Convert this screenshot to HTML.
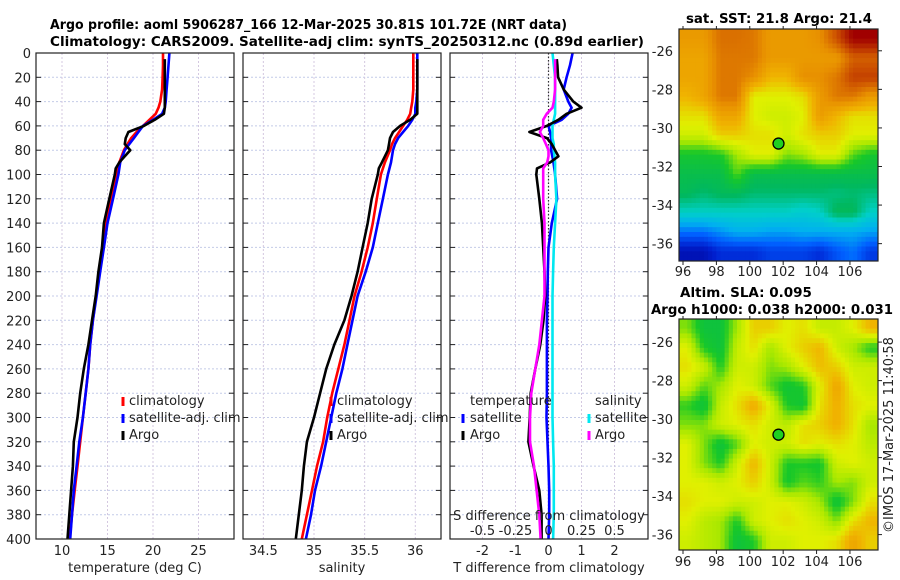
<!DOCTYPE html>
<html><head><meta charset="utf-8">
<style>
html,body{margin:0;padding:0;background:#fff;}
svg{display:block;font-family:"DejaVu Sans","Liberation Sans",sans-serif;}
.tk{font-size:13px;fill:#222;}
.tt{font-size:13.5px;font-weight:bold;fill:#000;}
</style></head>
<body>
<svg id="fig" width="900" height="580" viewBox="0 0 900 580" xmlns="http://www.w3.org/2000/svg">
<text class="tt" x="50" y="29" textLength="517" lengthAdjust="spacingAndGlyphs">Argo profile: aoml 5906287_166 12-Mar-2025 30.81S 101.72E (NRT data)</text>
<text class="tt" x="50" y="46" textLength="594" lengthAdjust="spacingAndGlyphs">Climatology: CARS2009. Satellite-adj clim: synTS_20250312.nc (0.89d earlier)</text>
<text class="tt" x="779" y="23" text-anchor="middle" textLength="186" lengthAdjust="spacingAndGlyphs">sat. SST: 21.8 Argo: 21.4</text>
<text class="tt" x="746" y="297" text-anchor="middle">Altim. SLA: 0.095</text>
<text class="tt" x="772" y="314" text-anchor="middle" textLength="242" lengthAdjust="spacingAndGlyphs">Argo h1000: 0.038 h2000: 0.031</text>
<text class="tk" transform="translate(893,435) rotate(-90)" text-anchor="middle">©IMOS 17-Mar-2025 11:40:58</text>
<g id="layer"></g>
</svg>
<script>
// ---- data ----
const yTicks = [0,20,40,60,80,100,120,140,160,180,200,220,240,260,280,300,320,340,360,380,400];
const tTicks = [10,15,20,25];
const sTicks = [34.5,35,35.5,36];
const dtTicks = [-2,-1,0,1,2];
const dsTicks = [-0.5,-0.25,0,0.25,0.5];
const dsTickLabels = ["-0.5","-0.25","0","0.25","0.5"];
const climDepth = [0,10,20,30,40,45,50,55,60,65,70,75,80,90,100,120,140,160,180,200,220,240,260,280,300,320,340,360,380,400];
const tClim = [21.1,21.1,21.05,21.0,20.8,20.6,20.3,19.6,18.9,18.2,17.6,17.2,16.8,16.3,16.0,15.4,14.8,14.5,14.1,13.75,13.4,13.1,12.9,12.6,12.3,12.0,11.7,11.4,11.1,10.85];
const tSat = [21.8,21.7,21.6,21.5,21.4,21.3,21.0,20.0,18.9,18.4,17.9,17.4,16.9,16.4,16.2,15.6,15.0,14.6,14.2,13.8,13.4,13.1,12.9,12.6,12.3,11.9,11.6,11.3,11.1,10.9];
const sClim = [35.98,35.98,35.98,35.98,35.97,35.96,35.95,35.92,35.88,35.84,35.80,35.77,35.75,35.70,35.66,35.62,35.58,35.53,35.47,35.40,35.35,35.30,35.24,35.18,35.13,35.09,35.03,34.98,34.93,34.88];
const sSat = [36.02,36.02,36.02,36.02,36.01,36.0,36.0,35.97,35.93,35.88,35.83,35.80,35.78,35.76,35.73,35.68,35.63,35.58,35.51,35.43,35.38,35.33,35.28,35.22,35.17,35.12,35.07,35.01,34.97,34.92];
const argoDepth = [5,10,20,30,40,45,50,55,60,65,70,75,80,85,90,95,100,120,140,160,180,200,220,240,260,280,300,320,340,360,380,400];
const tArgo = [21.3,21.3,21.3,21.3,21.3,21.3,21.2,20.2,19.0,17.3,17.0,16.9,17.5,16.9,16.3,15.9,15.8,15.2,14.6,14.4,14.0,13.7,13.3,12.9,12.4,12.0,11.7,11.3,11.2,11.0,10.8,10.6];
const sArgo = [36.02,36.02,36.02,36.02,36.02,36.02,36.02,35.95,35.85,35.78,35.75,35.74,35.73,35.70,35.67,35.64,35.63,35.57,35.53,35.48,35.43,35.37,35.30,35.20,35.12,35.06,35.00,34.93,34.90,34.88,34.85,34.82];
const dTsat = [0.73,0.65,0.55,0.46,0.6,0.7,0.6,0.4,0.0,0.05,0.08,0.08,0.08,0.15,0.2,0.26,0.1,0.0,-0.02,-0.03,-0.05,-0.05,-0.05,-0.05,-0.06,-0.03,0.0,0.02,0.02,0.0];
const dSsat = [0.03,0.04,0.05,0.05,0.05,0.05,0.05,0.04,0.03,0.03,0.03,0.04,0.04,0.05,0.05,0.06,0.05,0.04,0.035,0.03,0.03,0.03,0.03,0.03,0.03,0.035,0.04,0.04,0.04,0.035];
const dTargo = [0.25,0.27,0.29,0.46,0.75,1.0,0.55,0.3,-0.05,-0.58,-0.05,0.1,0.2,0.3,0.05,-0.35,-0.37,-0.28,-0.2,-0.16,-0.12,-0.1,-0.15,-0.25,-0.4,-0.54,-0.57,-0.61,-0.45,-0.28,-0.21,-0.21];
const dSargo = [0.05,0.05,0.05,0.05,0.04,0.03,-0.014,-0.04,-0.04,-0.065,-0.04,-0.02,0.0,0.0,-0.01,-0.04,-0.04,-0.04,-0.03,-0.03,-0.03,-0.03,-0.05,-0.07,-0.1,-0.13,-0.14,-0.14,-0.11,-0.09,-0.07,-0.06];
// map data (normalized colour index 0..1), rows north->south, cols west->east
const sstGrid = [
[0.80,0.80,0.86,0.86,0.85,0.80,0.80,0.80,0.82,0.90,1.00,1.00],
[0.78,0.78,0.85,0.85,0.85,0.80,0.80,0.80,0.80,0.80,0.88,0.88],
[0.78,0.78,0.85,0.85,0.82,0.75,0.75,0.82,0.82,0.85,0.92,0.92],
[0.75,0.78,0.85,0.85,0.68,0.68,0.68,0.70,0.80,0.85,0.85,0.80],
[0.70,0.70,0.78,0.78,0.68,0.66,0.66,0.68,0.80,0.75,0.70,0.70],
[0.66,0.66,0.72,0.72,0.70,0.70,0.66,0.70,0.72,0.72,0.68,0.68],
[0.54,0.54,0.55,0.62,0.68,0.68,0.60,0.62,0.68,0.68,0.58,0.54],
[0.50,0.50,0.50,0.58,0.50,0.50,0.50,0.50,0.50,0.50,0.50,0.50],
[0.48,0.46,0.48,0.48,0.46,0.46,0.46,0.46,0.46,0.45,0.46,0.45],
[0.40,0.40,0.40,0.40,0.40,0.40,0.40,0.38,0.40,0.48,0.48,0.40],
[0.22,0.22,0.26,0.30,0.30,0.28,0.28,0.30,0.30,0.30,0.30,0.28],
[0.06,0.06,0.12,0.12,0.12,0.15,0.15,0.15,0.12,0.18,0.22,0.14]];
const slaGrid = [
[0.60,0.52,0.52,0.62,0.72,0.72,0.68,0.70,0.65,0.65,0.68,0.75],
[0.68,0.55,0.52,0.65,0.70,0.62,0.68,0.72,0.75,0.66,0.62,0.55],
[0.70,0.66,0.55,0.66,0.66,0.60,0.62,0.68,0.74,0.72,0.66,0.66],
[0.66,0.58,0.62,0.68,0.66,0.58,0.53,0.55,0.68,0.78,0.68,0.66],
[0.56,0.52,0.65,0.70,0.77,0.68,0.55,0.53,0.70,0.76,0.70,0.68],
[0.60,0.60,0.66,0.68,0.70,0.66,0.64,0.70,0.72,0.76,0.70,0.62],
[0.68,0.60,0.52,0.58,0.68,0.66,0.66,0.70,0.68,0.70,0.68,0.64],
[0.68,0.60,0.55,0.66,0.75,0.66,0.55,0.55,0.54,0.66,0.68,0.66],
[0.68,0.68,0.66,0.68,0.72,0.66,0.54,0.58,0.56,0.62,0.60,0.66],
[0.70,0.68,0.68,0.66,0.66,0.68,0.68,0.66,0.62,0.52,0.60,0.70],
[0.68,0.64,0.62,0.55,0.66,0.68,0.70,0.68,0.66,0.60,0.70,0.75],
[0.66,0.64,0.62,0.52,0.55,0.66,0.66,0.68,0.68,0.70,0.78,0.72]];
const lonTicks = [96,98,100,102,104,106];
const sstLatTicks = [-26,-28,-30,-32,-34,-36];
const slaLatTicks = [-26,-28,-30,-32,-34,-36];
const argoLon = 101.72, argoLat = -30.81;

// ---- helpers ----
const NS = "http://www.w3.org/2000/svg";
const layer = document.getElementById('layer');
function mk(tag, attrs, parent){
  const e = document.createElementNS(NS, tag);
  for (const k in attrs) e.setAttribute(k, attrs[k]);
  (parent||layer).appendChild(e);
  return e;
}
const Y0 = 53, YS = 1.215;
const yD = d => Y0 + d*YS;
const BOT = yD(400);
const panels = [
  {name:'temperature-panel', x0:36, x1:234, fx:v=>62+(v-10)*9.1, ticks:tTicks, labels:tTicks.map(String), xlabel:'temperature (deg C)'},
  {name:'salinity-panel', x0:243, x1:441, fx:v=>314+(v-35)*101.3, ticks:sTicks, labels:sTicks.map(String), xlabel:'salinity'},
  {name:'difference-panel', x0:450, x1:648, fx:v=>548.5+v*33, ticks:dtTicks, labels:dtTicks.map(String), xlabel:'T difference from climatology'}
];
const fS = v => 548.5 + v*132;

panels.forEach((p,pi)=>{
  const g = mk('g',{});
  
  
  yTicks.forEach(d=>{
    const l = mk('line',{x1:p.x0,x2:p.x1,y1:yD(d),y2:yD(d),stroke:'#c4cbe8','stroke-width':1,'stroke-dasharray':'2,2'},g);
    
    
    mk('line',{x1:p.x0,x2:p.x0+5,y1:yD(d),y2:yD(d),stroke:'#222','stroke-width':1},g);
    mk('line',{x1:p.x1-5,x2:p.x1,y1:yD(d),y2:yD(d),stroke:'#222','stroke-width':1},g);
    if (pi===0){
      const t = mk('text',{x:31,y:yD(d)+5,'text-anchor':'end',class:'tk'},g);
      t.textContent = d;
      
      
    }
  });
  p.ticks.forEach((v,i)=>{
    const x = p.fx(v);
    const l = mk('line',{x1:x,x2:x,y1:Y0,y2:BOT,stroke:'#d4c8e0','stroke-width':1,'stroke-dasharray':'2,2'},g);
    
    
    const t = mk('text',{x:x,y:555,'text-anchor':'middle',class:'tk'},g);
    t.textContent = p.labels[i];
    
    
  });
  const xl = mk('text',{x:(p.x0+p.x1)/2,y:572,'text-anchor':'middle',class:'tk'},g);
  xl.textContent = p.xlabel;
  
  
  p.g = g;
});

function line(g, xs, ds, fx, color, name, w){
  const pts = xs.map((v,i)=>fx(v).toFixed(1)+','+yD(ds[i]).toFixed(1)).join(' ');
  const e = mk('polyline',{points:pts,fill:'none',stroke:color,'stroke-width':w||2.6,'stroke-linejoin':'round'},g);
  
  
}
const zl = mk('line',{x1:548.5,x2:548.5,y1:Y0,y2:BOT,stroke:'#333','stroke-width':1.2,'stroke-dasharray':'1.5,2'},panels[2].g);



line(panels[0].g, tClim, climDepth, panels[0].fx, '#ff0000', 'temp-climatology-line');
line(panels[0].g, tSat, climDepth, panels[0].fx, '#0000ff', 'temp-satellite-line');
line(panels[0].g, tArgo, argoDepth, panels[0].fx, '#000000', 'temp-argo-line');
line(panels[1].g, sClim, climDepth, panels[1].fx, '#ff0000', 'sal-climatology-line');
line(panels[1].g, sSat, climDepth, panels[1].fx, '#0000ff', 'sal-satellite-line');
line(panels[1].g, sArgo, argoDepth, panels[1].fx, '#000000', 'sal-argo-line');
line(panels[2].g, dTsat, climDepth, panels[2].fx, '#0000ff', 'tdiff-satellite-line');
line(panels[2].g, dSsat, climDepth, fS, '#00e8f0', 'sdiff-satellite-line');
line(panels[2].g, dTargo, argoDepth, panels[2].fx, '#000000', 'tdiff-argo-line');
line(panels[2].g, dSargo, argoDepth, fS, '#ff00ff', 'sdiff-argo-line');

panels.forEach(p=>{
  const r = mk('rect',{x:p.x0,y:Y0,width:p.x1-p.x0,height:BOT-Y0,fill:'none',stroke:'#222','stroke-width':1.2},p.g);
  
  
});

function legItem(g, mx, tx, y, color, label){
  const m = mk('rect',{x:mx-1.5,y:y-8,width:3,height:9,fill:color},g);
  
  
  const t = mk('text',{x:tx,y:y,class:'tk'},g);
  t.textContent = label;
  
  
}
[[panels[0].g,123,129],[panels[1].g,331,337]].forEach(([g,mx,tx])=>{
  legItem(g,mx,tx,405,'#ff0000','climatology');
  legItem(g,mx,tx,422,'#0000ff','satellite-adj. clim');
  legItem(g,mx,tx,439,'#000000','Argo');
});
{
  const g = panels[2].g;
  const h1 = mk('text',{x:470,y:405,class:'tk'},g); h1.textContent='temperature';
   
  const h2 = mk('text',{x:595,y:405,class:'tk'},g); h2.textContent='salinity';
   
  legItem(g,463,470,422,'#0000ff','satellite');
  legItem(g,463,470,439,'#000000','Argo');
  legItem(g,589,595,422,'#00e8f0','satellite');
  legItem(g,589,595,439,'#ff00ff','Argo');
  const st = mk('text',{x:549,y:520,'text-anchor':'middle',class:'tk'},g);
  st.textContent='S difference from climatology';
   
  dsTicks.forEach((v,i)=>{
    const t = mk('text',{x:fS(v),y:535,'text-anchor':'middle',class:'tk'},g);
    t.textContent = dsTickLabels[i];
     
  });
}

// ---- maps ----
const cstops = [[0,'#000090'],[0.1,'#0020d0'],[0.2,'#0060ff'],[0.3,'#00b0f0'],[0.4,'#00d0c8'],[0.47,'#00b860'],[0.55,'#18c828'],[0.62,'#a8e800'],[0.68,'#e0f000'],[0.75,'#f0b400'],[0.82,'#e89000'],[0.9,'#cc5000'],[1,'#a00000']];
function hex(c){return [1,3,5].map(i=>parseInt(c.substr(i,2),16));}
function cmap(v){
  v=Math.max(0,Math.min(1,v));
  for(let i=0;i<cstops.length-1;i++){
    const [a,ca]=cstops[i],[b,cb]=cstops[i+1];
    if(v<=b){const t=(v-a)/(b-a);const A=hex(ca),B=hex(cb);
      return 'rgb('+A.map((x,j)=>Math.round(x+(B[j]-x)*t)).join(',')+')';}
  }
  return cstops[cstops.length-1][1];
}
function drawMap(name, grid, mx0, my0, mx1, my1, lat0, lat1, lon0, lon1, latTicks, labelY){
  const g = mk('g',{});
  
  
  const R = grid.length, C = grid[0].length, up = 4;
  const W = mx1-mx0, H = my1-my0;
  const cw = W/(C*up), ch = H/(R*up);
  const sample = (r,c)=>grid[Math.max(0,Math.min(R-1,r))][Math.max(0,Math.min(C-1,c))];
  for(let i=0;i<R*up;i++){
    for(let j=0;j<C*up;j++){
      const fr=(i+0.5)/up-0.5, fc=(j+0.5)/up-0.5;
      const r0=Math.floor(fr), c0=Math.floor(fc), tr=fr-r0, tc=fc-c0;
      const v = sample(r0,c0)*(1-tr)*(1-tc)+sample(r0,c0+1)*(1-tr)*tc+sample(r0+1,c0)*tr*(1-tc)+sample(r0+1,c0+1)*tr*tc;
      const cell = mk('rect',{x:(mx0+j*cw).toFixed(2),y:(my0+i*ch).toFixed(2),width:(cw+0.4).toFixed(2),height:(ch+0.4).toFixed(2),fill:cmap(v)},g);
      
      
    }
  }
  const fx = lon => mx0 + (lon-lon0)/(lon1-lon0)*W;
  const fy = lat => my0 + (lat0-lat)/(lat0-lat1)*H;
  const fr = mk('rect',{x:mx0,y:my0,width:W,height:H,fill:'none',stroke:'#222','stroke-width':1.2},g);
   
  lonTicks.forEach(l=>{
    mk('line',{x1:fx(l),x2:fx(l),y1:my1,y2:my1+4,stroke:'#222'},g);
    mk('line',{x1:fx(l),x2:fx(l),y1:my0,y2:my0-3,stroke:'#222'},g);
    const t = mk('text',{x:fx(l),y:labelY,'text-anchor':'middle',class:'tk'},g);
    t.textContent = l;
     
  });
  latTicks.forEach(l=>{
    mk('line',{x1:mx1,x2:mx1+4,y1:fy(l),y2:fy(l),stroke:'#222'},g);
    const t = mk('text',{x:mx0-6,y:fy(l)+5,'text-anchor':'end',class:'tk'},g);
    t.textContent = l;
     
  });
  const c = mk('circle',{cx:fx(argoLon),cy:fy(argoLat),r:5.5,fill:'#20d020',stroke:'#000','stroke-width':1.3},g);
  
  
}
drawMap('sst-map', sstGrid, 679, 29, 878, 261, -24.87, -36.9, 95.76, 107.68, sstLatTicks, 276);
drawMap('sla-map', slaGrid, 679, 319, 878, 550, -24.8, -36.8, 95.76, 107.68, slaLatTicks, 566);
</script>
</body></html>
